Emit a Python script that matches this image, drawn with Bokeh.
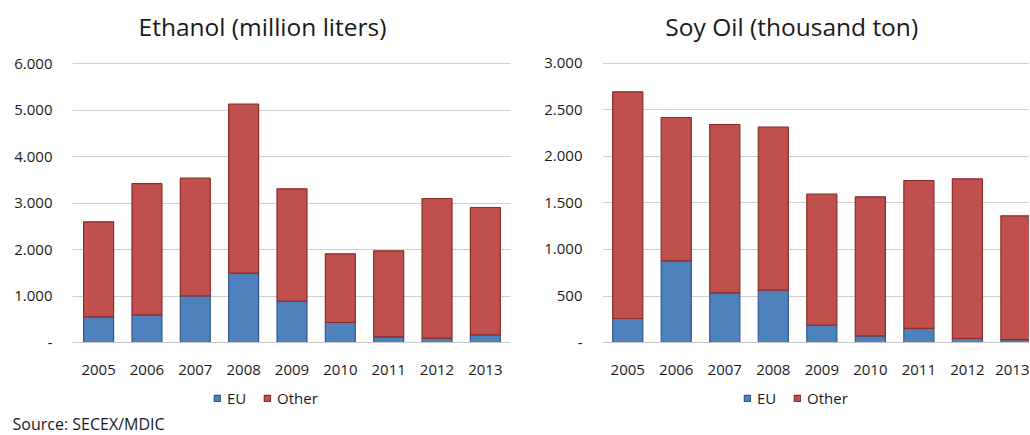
from bokeh.plotting import figure
from bokeh.layouts import row
from bokeh.models import Range1d, FixedTicker, Legend, LegendItem, Title, Label, ColumnDataSource
from bokeh.embed import file_html
from bokeh.resources import INLINE

years = [2005, 2006, 2007, 2008, 2009, 2010, 2011, 2012, 2013]
year_labels = [str(y) for y in years]

ethanol_total = [2595, 3419, 3534, 5125, 3305, 1907, 1971, 3097, 2903]
ethanol_eu = [552, 595, 1004, 1491, 889, 430, 122, 93, 165]
ethanol_other = [t - e for t, e in zip(ethanol_total, ethanol_eu)]

soy_total = [2695, 2419, 2344, 2315, 1595, 1566, 1742, 1760, 1362]
soy_eu = [258, 878, 534, 563, 186, 72, 151, 43, 32]
soy_other = [t - e for t, e in zip(soy_total, soy_eu)]

eth_ticks = [0, 1000, 2000, 3000, 4000, 5000, 6000]
eth_tick_labels = ["-", "1.000", "2.000", "3.000", "4.000", "5.000", "6.000"]
soy_ticks = [0, 500, 1000, 1500, 2000, 2500, 3000]
soy_tick_labels = ["-", "500", "1.000", "1.500", "2.000", "2.500", "3.000"]

series_names = ["EU", "Other"]
FILL = ["#4F81BD", "#C0504D"]
LINE = ["#2F5A8C", "#8E2A27"]
FONT = "Open Sans"
TXT = "#1a1a1a"
H = 434


def make_chart(title, eu, other, ticks, tick_labels, yr, xr, width, mbl, mbr, title_pos):
    p = figure(width=width, height=H, x_range=Range1d(*xr), y_range=Range1d(*yr),
               min_border_left=mbl, min_border_right=mbr, min_border_top=0, min_border_bottom=24,
               output_backend="svg", toolbar_location=None, tools="")
    p.outline_line_color = None
    p.background_fill_color = "white"

    p.add_layout(Label(x=title_pos[0], y=title_pos[1], text=title, text_align="center",
                       text_baseline="middle", text_font=FONT, text_font_size="24.5px",
                       text_color=TXT))

    src = ColumnDataSource(dict(x=years, EU=eu, Other=other))
    rs = p.vbar_stack(series_names, x="x", width=0.62, source=src,
                      fill_color=FILL, line_color=LINE, line_width=1.2)

    p.yaxis.ticker = FixedTicker(ticks=ticks)
    p.yaxis.major_label_overrides = {t: l for t, l in zip(ticks, tick_labels)}
    p.xaxis.ticker = FixedTicker(ticks=years)
    p.xaxis.major_label_overrides = {y: l for y, l in zip(years, year_labels)}
    p.xaxis.fixed_location = 0
    for ax in (p.xaxis, p.yaxis):
        ax.major_tick_line_color = None
        ax.minor_tick_line_color = None
        ax.major_label_text_font = FONT
        ax.major_label_text_font_size = "15px"
        ax.major_label_text_color = TXT
    p.yaxis.axis_line_color = None
    p.yaxis.major_label_standoff = 14
    p.xaxis.axis_line_color = "#C8C8C8"
    p.xaxis.axis_line_width = 1.2
    p.xaxis.major_label_standoff = 16
    p.xgrid.grid_line_color = None
    p.ygrid.ticker = FixedTicker(ticks=ticks)
    p.ygrid.grid_line_color = "#D0D0D0"
    p.ygrid.grid_line_width = 1.2

    legend = Legend(items=[LegendItem(label=n, renderers=[r]) for n, r in zip(series_names, rs)],
                    orientation="horizontal", location=(141, 2),
                    glyph_width=8, glyph_height=8, label_text_font=FONT,
                    label_text_font_size="15px", label_text_color=TXT,
                    border_line_color=None, background_fill_alpha=0,
                    padding=0, margin=0, spacing=16, label_standoff=6)
    p.add_layout(legend)
    return p


left = make_chart("Ethanol (million liters)", ethanol_eu, ethanol_other, eth_ticks, eth_tick_labels,
                  (-1462, 7355), (2004.46, 2013.52), 540, 72, 30, (2008.39, 6800))
src_title = Title(text="Source: SECEX/MDIC", align="left", text_font=FONT, text_font_size="16px",
                  text_font_style="normal", text_color=TXT, offset=-60, standoff=0)
left.add_layout(src_title, "below")

right = make_chart("Soy Oil (thousand ton)", soy_eu, soy_other, soy_ticks, soy_tick_labels,
                   (-731, 3677), (2004.48, 2013.28), 489, 62, 0, (2008.38, 3400))

layout = row(left, right)
open("out.html", "w").write(file_html(layout, INLINE))
